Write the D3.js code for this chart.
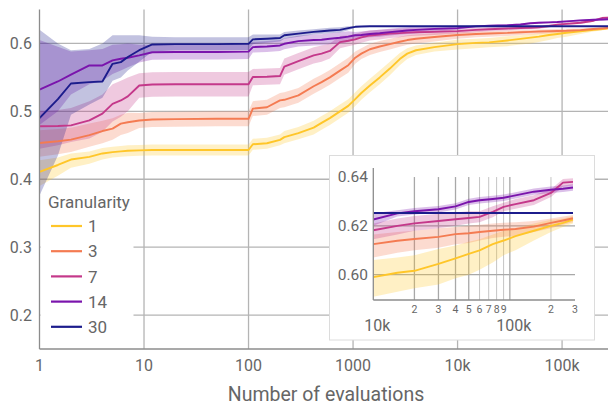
<!DOCTYPE html>
<html>
<head>
<meta charset="utf-8">
<script src="https://cdn.jsdelivr.net/npm/d3@7"></script>
<style>
  body { margin: 0; background: #fff; }
  svg text { font-family: Roboto, "Open Sans", sans-serif; fill: #666; }
</style>
</head>
<body>
<div id="chart"></div>
<script>
// evaluation grid shared by all series
var evals = [1, 1.5, 2, 3, 4, 5, 6, 7, 9, 12, 20, 50, 100, 110, 150, 200, 220, 300, 420, 500,
  600, 750, 900, 1050, 1200, 1450, 1800, 2250, 2800, 3300, 4000, 6000, 10000, 15000, 20000,
  30000, 40000, 50000, 60000, 75000, 90000, 110000, 150000, 200000, 245000, 290000];

var granularities = ["1", "3", "7", "14", "30"];
var colors = ["#FFC629", "#F47B52", "#C4388A", "#7A14AC", "#1C1C8C"];

var g1Mean = [0.411, 0.421, 0.429, 0.433, 0.438, 0.440, 0.441, 0.442, 0.4426, 0.443, 0.443, 0.443, 0.443, 0.4515, 0.453, 0.458, 0.462, 0.468, 0.476, 0.483,
  0.490, 0.500, 0.508, 0.518, 0.527, 0.538, 0.550, 0.563, 0.577, 0.585, 0.590, 0.5946, 0.599, 0.6008, 0.6016,
  0.6044, 0.6067, 0.6085, 0.610, 0.6125, 0.614, 0.6158, 0.618, 0.620, 0.6212, 0.6226];
var g1Lo = [0.390, 0.405, 0.417, 0.423, 0.429, 0.432, 0.433, 0.434, 0.4346, 0.435, 0.435, 0.435, 0.435, 0.4435, 0.445, 0.450, 0.453, 0.459, 0.466, 0.473,
  0.480, 0.490, 0.498, 0.508, 0.517, 0.528, 0.540, 0.553, 0.568, 0.577, 0.583, 0.588, 0.591, 0.593, 0.5945,
  0.596, 0.5985, 0.600, 0.602, 0.605, 0.608, 0.610, 0.614, 0.6175, 0.6195, 0.621];
var g1Hi = [0.428, 0.432, 0.438, 0.441, 0.446, 0.448, 0.449, 0.450, 0.4506, 0.451, 0.451, 0.451, 0.451, 0.4595, 0.461, 0.466, 0.471, 0.477, 0.486, 0.493,
  0.500, 0.510, 0.518, 0.528, 0.537, 0.548, 0.560, 0.573, 0.586, 0.593, 0.597, 0.601, 0.606, 0.607, 0.608,
  0.6105, 0.612, 0.6135, 0.6145, 0.6165, 0.618, 0.619, 0.621, 0.6225, 0.623, 0.624];

var g3Mean = [0.4534, 0.456, 0.4584, 0.465, 0.471, 0.4745, 0.482, 0.484, 0.4865, 0.488, 0.4885, 0.489, 0.489, 0.504, 0.506, 0.5162, 0.517, 0.5235, 0.537, 0.543,
  0.550, 0.560, 0.568, 0.579, 0.585, 0.5915, 0.5955, 0.599, 0.6025, 0.605, 0.607, 0.6095, 0.6125, 0.6139, 0.6146,
  0.6155, 0.6166, 0.617, 0.6175, 0.618, 0.6184, 0.6187, 0.6197, 0.6212, 0.6222, 0.6231];
var g3Lo = [0.433, 0.437, 0.440, 0.448, 0.453, 0.458, 0.465, 0.468, 0.4755, 0.477, 0.4775, 0.478, 0.478, 0.493, 0.495, 0.505, 0.506, 0.5125, 0.526, 0.532,
  0.539, 0.549, 0.557, 0.570, 0.577, 0.583, 0.5875, 0.591, 0.595, 0.598, 0.600, 0.603, 0.607, 0.609, 0.610,
  0.611, 0.6125, 0.613, 0.614, 0.615, 0.6155, 0.616, 0.6175, 0.619, 0.6205, 0.6215];
var g3Hi = [0.472, 0.474, 0.476, 0.482, 0.486, 0.490, 0.495, 0.498, 0.4975, 0.499, 0.4995, 0.500, 0.500, 0.515, 0.517, 0.5272, 0.528, 0.5345, 0.548, 0.554,
  0.561, 0.571, 0.579, 0.588, 0.593, 0.5995, 0.6035, 0.607, 0.610, 0.612, 0.613, 0.615, 0.6165, 0.6175, 0.618,
  0.619, 0.6195, 0.620, 0.6205, 0.621, 0.6213, 0.6215, 0.622, 0.623, 0.6238, 0.6245];

var g7Mean = [0.478, 0.4785, 0.4794, 0.4868, 0.4966, 0.511, 0.516, 0.522, 0.538, 0.5395, 0.540, 0.540, 0.540, 0.5505, 0.551, 0.552, 0.566, 0.574, 0.5824, 0.585,
  0.589, 0.602, 0.604, 0.606, 0.609, 0.6118, 0.613, 0.6145, 0.6152, 0.616, 0.6165, 0.617, 0.6182, 0.620, 0.621,
  0.622, 0.6227, 0.6232, 0.6237, 0.6257, 0.6278, 0.6289, 0.6305, 0.6335, 0.6377, 0.638];
var g7Lo = [0.445, 0.450, 0.455, 0.460, 0.470, 0.485, 0.492, 0.500, 0.520, 0.5215, 0.522, 0.522, 0.522, 0.5385, 0.539, 0.540, 0.554, 0.562, 0.5705, 0.573,
  0.578, 0.593, 0.596, 0.598, 0.601, 0.6045, 0.606, 0.608, 0.609, 0.6105, 0.6115, 0.6125, 0.6145, 0.6165, 0.618,
  0.619, 0.620, 0.621, 0.6215, 0.6235, 0.626, 0.627, 0.6285, 0.6318, 0.636, 0.6365];
var g7Hi = [0.500, 0.502, 0.505, 0.515, 0.525, 0.540, 0.545, 0.550, 0.556, 0.5575, 0.558, 0.558, 0.558, 0.5625, 0.563, 0.564, 0.578, 0.586, 0.5945, 0.597,
  0.600, 0.611, 0.612, 0.614, 0.617, 0.619, 0.620, 0.621, 0.6215, 0.622, 0.622, 0.6215, 0.621, 0.623, 0.624,
  0.625, 0.6255, 0.626, 0.626, 0.628, 0.6295, 0.631, 0.6325, 0.635, 0.6392, 0.6395];

var g14Mean = [0.532, 0.544, 0.554, 0.5676, 0.5676, 0.575, 0.5775, 0.579, 0.5824, 0.587, 0.5875, 0.5875, 0.588, 0.5946, 0.5955, 0.597, 0.5995, 0.6034, 0.605, 0.6054,
  0.607, 0.6084, 0.610, 0.612, 0.6125, 0.614, 0.615, 0.6167, 0.618, 0.619, 0.620, 0.6215, 0.6226, 0.6251, 0.626,
  0.6268, 0.628, 0.6298, 0.6305, 0.631, 0.6315, 0.6325, 0.634, 0.6348, 0.6352, 0.6357];
var g14Lo = [0.480, 0.500, 0.525, 0.540, 0.545, 0.555, 0.560, 0.565, 0.572, 0.576, 0.5765, 0.5765, 0.577, 0.5866, 0.5875, 0.589, 0.5915, 0.5954, 0.597, 0.5974,
  0.599, 0.6004, 0.602, 0.607, 0.6075, 0.609, 0.610, 0.6117, 0.613, 0.614, 0.615, 0.617, 0.620, 0.6238, 0.6247,
  0.6255, 0.6267, 0.6285, 0.6292, 0.6297, 0.6302, 0.6312, 0.6327, 0.6335, 0.6339, 0.6344];
var g14Hi = [0.605, 0.595, 0.588, 0.590, 0.592, 0.598, 0.599, 0.600, 0.598, 0.598, 0.5985, 0.5985, 0.599, 0.6026, 0.6035, 0.605, 0.6075, 0.6114, 0.613, 0.6134,
  0.615, 0.6164, 0.618, 0.617, 0.6175, 0.619, 0.620, 0.6217, 0.623, 0.624, 0.625, 0.626, 0.6252, 0.6264, 0.6273,
  0.6281, 0.6293, 0.6311, 0.6318, 0.6323, 0.6328, 0.6338, 0.6353, 0.6361, 0.6365, 0.637];

var g30Mean = [0.490, 0.518, 0.541, 0.543, 0.544, 0.570, 0.5725, 0.580, 0.590, 0.5985, 0.599, 0.599, 0.5995, 0.606, 0.607, 0.608, 0.612, 0.6145, 0.617, 0.618,
  0.619, 0.620, 0.6225, 0.6245, 0.625, 0.6253, 0.6253, 0.6253, 0.6253, 0.6253, 0.6253, 0.6253, 0.6253, 0.6253, 0.6253,
  0.6253, 0.6253, 0.6253, 0.6253, 0.6253, 0.6253, 0.6253, 0.6253, 0.6253, 0.6253, 0.6253];
var g30Lo = [0.376, 0.435, 0.495, 0.510, 0.520, 0.545, 0.550, 0.560, 0.573, 0.588, 0.590, 0.590, 0.590, 0.599, 0.601, 0.603, 0.607, 0.610, 0.613, 0.614,
  0.615, 0.616, 0.6195, 0.6235, 0.6245, 0.625, 0.625, 0.625, 0.625, 0.625, 0.625, 0.625, 0.625, 0.625, 0.625,
  0.625, 0.625, 0.625, 0.625, 0.625, 0.625, 0.625, 0.625, 0.625, 0.625, 0.625];
var g30Hi = [0.620, 0.600, 0.590, 0.592, 0.600, 0.612, 0.612, 0.612, 0.612, 0.610, 0.609, 0.609, 0.609, 0.613, 0.613, 0.613, 0.617, 0.619, 0.621, 0.622,
  0.623, 0.624, 0.6255, 0.6255, 0.6255, 0.6256, 0.6256, 0.6256, 0.6256, 0.6256, 0.6256, 0.6256, 0.6256, 0.6256, 0.6256,
  0.6256, 0.6256, 0.6256, 0.6256, 0.6256, 0.6256, 0.6256, 0.6256, 0.6256, 0.6256, 0.6256];

var yTicks = [0.2, 0.3, 0.4, 0.5, 0.6];
var xTicks = [1, 10, 100, 1000, 10000, 100000];
var xTickLabels = ["1", "10", "100", "1000", "10k", "100k"];
var insetYTicks = [0.60, 0.62, 0.64];
var insetXMajor = [10000, 100000];
var insetXMajorLabels = ["10k", "100k"];
var insetXMinor = [20000, 30000, 40000, 50000, 60000, 70000, 80000, 90000, 200000, 300000];
var insetXMinorLabels = ["2", "3", "4", "5", "6", "7", "8", "9", "2", "3"];

var means = [g1Mean, g3Mean, g7Mean, g14Mean, g30Mean],
  los = [g1Lo, g3Lo, g7Lo, g14Lo, g30Lo],
  his = [g1Hi, g3Hi, g7Hi, g14Hi, g30Hi];

var series = granularities.map(function (g, k) {
  return {
    name: g, color: colors[k],
    values: evals.map(function (n, i) { return { n: n, m: means[k][i], lo: los[k][i], hi: his[k][i] }; })
  };
});

var W = 608, H = 406;
var svg = d3.select("#chart").append("svg").attr("width", W).attr("height", H);

var x = d3.scaleLog().domain([1, 2.75e5]).range([39.5, 608]);
var y = d3.scaleLinear().domain([0.15, 0.65]).range([349, 9.5]);

// grid
var grid = svg.append("g").attr("class", "grid");
grid.selectAll(".vg").data(xTicks.slice(1)).enter().append("line")
  .attr("x1", d => x(d)).attr("x2", d => x(d))
  .attr("y1", y.range()[1]).attr("y2", y.range()[0])
  .attr("stroke", "#b4b4b4").attr("stroke-width", 1.3);
grid.selectAll(".hg").data(yTicks).enter().append("line")
  .attr("x1", x.range()[0]).attr("x2", W)
  .attr("y1", d => y(d)).attr("y2", d => y(d))
  .attr("stroke", "#b4b4b4").attr("stroke-width", 1.3);

// legend background (sits under the data)
var legend = svg.append("g").attr("class", "legend");
legend.append("rect").attr("x", 40.5).attr("y", 188).attr("width", 93).attr("height", 152).attr("fill", "#fff");

svg.append("clipPath").attr("id", "mainClip").append("rect")
  .attr("x", 39.5).attr("y", 9.5).attr("width", W - 39.5).attr("height", 339.5);

function drawSeries(g, xs, ys, lw) {
  var area = d3.area().x(d => xs(d.n)).y0(d => ys(d.lo)).y1(d => ys(d.hi));
  var line = d3.line().x(d => xs(d.n)).y(d => ys(d.m));
  g.selectAll(".band").data(series).enter().append("path")
    .attr("class", "band").attr("d", d => area(d.values))
    .attr("fill", d => d.color).attr("fill-opacity", 0.27);
  g.selectAll(".line").data(series).enter().append("path")
    .attr("class", "line").attr("d", d => line(d.values))
    .attr("fill", "none").attr("stroke", d => d.color).attr("stroke-width", lw)
    .attr("stroke-linejoin", "round");
}

var plot = svg.append("g").attr("clip-path", "url(#mainClip)");
drawSeries(plot, x, y, 1.9);

// axes
svg.append("line").attr("x1", 39.5).attr("x2", 39.5).attr("y1", 9.5).attr("y2", 349)
  .attr("stroke", "#8c8c8c").attr("stroke-width", 1.3);
svg.append("line").attr("x1", 39.5).attr("x2", W).attr("y1", 349).attr("y2", 349)
  .attr("stroke", "#8c8c8c").attr("stroke-width", 1.3);

svg.selectAll(".ylab").data(yTicks).enter().append("text")
  .attr("x", 32).attr("y", d => y(d)).attr("dy", "0.35em")
  .attr("text-anchor", "end").style("font-size", "16px")
  .text(d => d3.format(".1f")(d));
svg.selectAll(".xlab").data(xTicks).enter().append("text")
  .attr("x", d => x(d)).attr("y", 371)
  .attr("text-anchor", "middle").style("font-size", "16px")
  .text((d, i) => xTickLabels[i]);
svg.append("text").attr("x", 326).attr("y", 401).attr("text-anchor", "middle")
  .style("font-size", "19.5px").text("Number of evaluations");

// legend content
legend.append("text").attr("x", 48).attr("y", 208).style("font-size", "17px").text("Granularity");
var items = legend.selectAll(".item").data(series).enter().append("g")
  .attr("transform", (d, i) => "translate(0," + (226 + i * 25.2) + ")");
items.append("line").attr("x1", 51).attr("x2", 82).attr("y1", 0).attr("y2", 0)
  .attr("stroke", d => d.color).attr("stroke-width", 2.2);
items.append("text").attr("x", 88).attr("y", 0).attr("dy", "0.36em")
  .style("font-size", "17px").text(d => d.name);

// inset
var inset = svg.append("g").attr("class", "inset");
inset.append("rect").attr("x", 329.5).attr("y", 155.5).attr("width", 265).attr("height", 184.5)
  .attr("fill", "#fff").attr("stroke", "#dcdcdc").attr("stroke-width", 1);

var xi = d3.scaleLog().domain([1e4, 3e5]).range([373.3, 575]);
var yi = d3.scaleLinear().domain([0.58964, 0.6437]).range([300, 168]);

inset.selectAll(".ivg").data(insetXMinor.filter(d => d < 3e5).concat([100000])).enter().append("line")
  .attr("x1", d => xi(d)).attr("x2", d => xi(d))
  .attr("y1", yi(0.64)).attr("y2", 300)
  .attr("stroke", d => (d >= 60000 && d <= 90000) || d === 200000 ? "#c4c4c4" : "#a8a8a8")
  .attr("stroke-width", d => (d >= 60000 && d <= 90000) || d === 200000 ? 1 : 1.3);
inset.selectAll(".ihg").data(insetYTicks.slice(0, 2)).enter().append("line")
  .attr("x1", 373.3).attr("x2", 575)
  .attr("y1", d => yi(d)).attr("y2", d => yi(d))
  .attr("stroke", "#a8a8a8").attr("stroke-width", 1.3);

svg.append("clipPath").attr("id", "insetClip").append("rect")
  .attr("x", 373.3).attr("y", 168).attr("width", 575 - 373.3).attr("height", 132);
var iplot = inset.append("g").attr("clip-path", "url(#insetClip)");
drawSeries(iplot, xi, yi, 1.9);

inset.append("line").attr("x1", 373.3).attr("x2", 373.3).attr("y1", 168).attr("y2", 300)
  .attr("stroke", "#8c8c8c").attr("stroke-width", 1.3);
inset.append("line").attr("x1", 373.3).attr("x2", 575).attr("y1", 300).attr("y2", 300)
  .attr("stroke", "#8c8c8c").attr("stroke-width", 1.3);

inset.selectAll(".iylab").data(insetYTicks).enter().append("text")
  .attr("x", 368).attr("y", d => yi(d)).attr("dy", "0.35em")
  .attr("text-anchor", "end").style("font-size", "15.5px")
  .text(d => d3.format(".2f")(d));
inset.selectAll(".ixmaj").data(insetXMajor).enter().append("text")
  .attr("x", d => xi(d) + 4).attr("y", 331)
  .attr("text-anchor", "middle").style("font-size", "16px")
  .text((d, i) => insetXMajorLabels[i]);
inset.selectAll(".ixmin").data(insetXMinor).enter().append("text")
  .attr("x", d => xi(d)).attr("y", 313)
  .attr("text-anchor", "middle").style("font-size", "10.5px")
  .text((d, i) => insetXMinorLabels[i]);
</script>
</body>
</html>
